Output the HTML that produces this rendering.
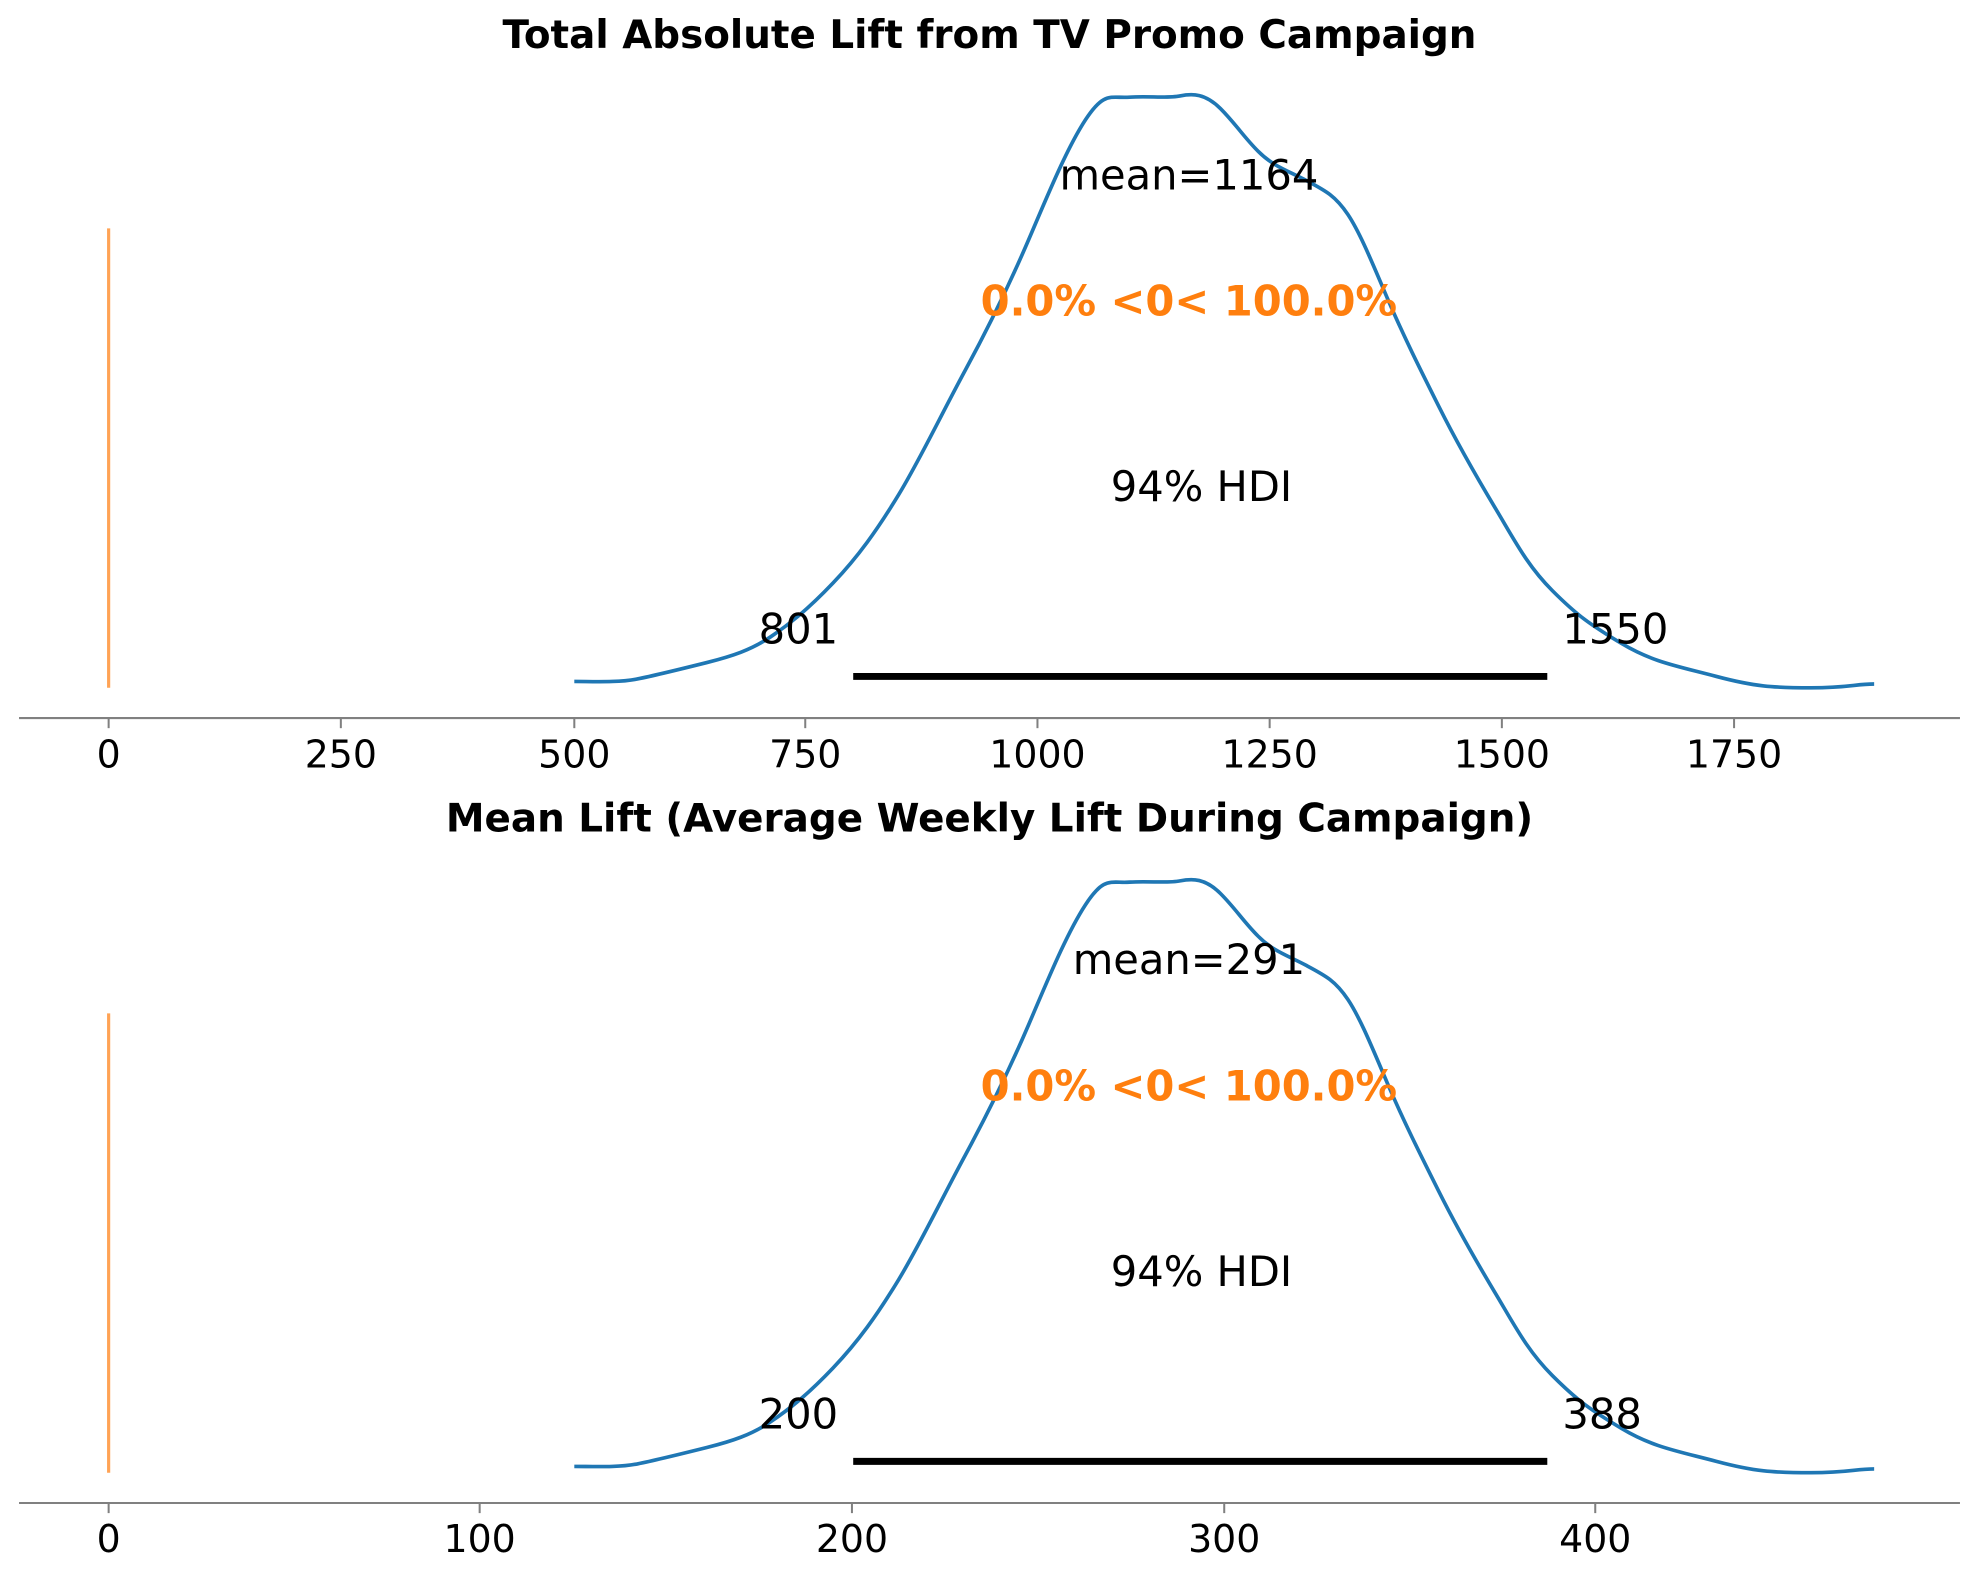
<!DOCTYPE html>
<html><head><style>html,body{margin:0;padding:0;background:#fff}svg{display:block}</style></head>
<body>
<svg width="1979" height="1580" viewBox="0 0 1568 1252" xmlns="http://www.w3.org/2000/svg" font-family="'DejaVu Sans','Liberation Sans',sans-serif">
<rect width="1568" height="1252" fill="#fff"/>
<defs>
<path id="kde" fill="none" stroke="#1f77b4" stroke-width="2.9" stroke-linejoin="round" d="M455,540 C470,540 490,541 505,538 S540,530 560,525 S595,515 610,505 S640,483 660,462 S695,420 712,392 S745,330 765,293 S800,225 815,190 S845,118 860,95 S880,78 895,77 S925,78 935,76 S955,74 967,86 S985,108 997,120 S1020,135 1035,143 S1058,155 1068,170 S1088,210 1100,238 S1125,292 1140,322 S1170,378 1185,403 S1210,448 1230,468 S1260,495 1285,510 S1330,528 1360,536 S1405,545 1435,545 S1470,542 1485,542"/>
</defs>
<g>
<text x="784" y="38" text-anchor="middle" font-size="30.8" font-weight="bold">Total Absolute Lift from TV Promo Campaign</text>
<line x1="86" y1="181" x2="86" y2="545" stroke="#ffa355" stroke-width="2.5"/>
<use href="#kde"/>
<line x1="676" y1="536" x2="1226" y2="536" stroke="#000" stroke-width="5.5"/>
<text x="664" y="510" text-anchor="end" font-size="33">801</text>
<text x="1238" y="510" font-size="33">1550</text>
<text x="942" y="150" text-anchor="middle" font-size="33">mean=1164</text>
<text x="942" y="250" text-anchor="middle" font-size="33" font-weight="bold" fill="#ff7f0e">0.0% &lt;0&lt; 100.0%</text>
<text x="952" y="397" text-anchor="middle" font-size="33">94% HDI</text>
<line x1="15" y1="569" x2="1553" y2="569" stroke="#808080" stroke-width="1.6"/>
<g stroke="#808080" stroke-width="1.6">
<line x1="86" y1="569" x2="86" y2="577"/><line x1="270" y1="569" x2="270" y2="577"/><line x1="455" y1="569" x2="455" y2="577"/><line x1="638" y1="569" x2="638" y2="577"/><line x1="822" y1="569" x2="822" y2="577"/><line x1="1006" y1="569" x2="1006" y2="577"/><line x1="1190" y1="569" x2="1190" y2="577"/><line x1="1374" y1="569" x2="1374" y2="577"/>
</g>
<g font-size="30" text-anchor="middle">
<text x="86" y="608">0</text><text x="270" y="608">250</text><text x="455" y="608">500</text><text x="638" y="608">750</text><text x="822" y="608">1000</text><text x="1006" y="608">1250</text><text x="1190" y="608">1500</text><text x="1374" y="608">1750</text>
</g>
</g>
<g transform="translate(0,622)">
<text x="784" y="37" text-anchor="middle" font-size="30.8" font-weight="bold">Mean Lift (Average Weekly Lift During Campaign)</text>
<line x1="86" y1="181" x2="86" y2="545" stroke="#ffa355" stroke-width="2.5"/>
<use href="#kde"/>
<line x1="676" y1="536" x2="1226" y2="536" stroke="#000" stroke-width="5.5"/>
<text x="664" y="510" text-anchor="end" font-size="33">200</text>
<text x="1238" y="510" font-size="33">388</text>
<text x="942" y="150" text-anchor="middle" font-size="33">mean=291</text>
<text x="942" y="250" text-anchor="middle" font-size="33" font-weight="bold" fill="#ff7f0e">0.0% &lt;0&lt; 100.0%</text>
<text x="952" y="397" text-anchor="middle" font-size="33">94% HDI</text>
<line x1="15" y1="569" x2="1553" y2="569" stroke="#808080" stroke-width="1.6"/>
<g stroke="#808080" stroke-width="1.6">
<line x1="86" y1="569" x2="86" y2="577"/><line x1="380" y1="569" x2="380" y2="577"/><line x1="675" y1="569" x2="675" y2="577"/><line x1="970" y1="569" x2="970" y2="577"/><line x1="1264" y1="569" x2="1264" y2="577"/>
</g>
<g font-size="30" text-anchor="middle">
<text x="86" y="608">0</text><text x="380" y="608">100</text><text x="675" y="608">200</text><text x="970" y="608">300</text><text x="1264" y="608">400</text>
</g>
</g>
</svg>
</body></html>
